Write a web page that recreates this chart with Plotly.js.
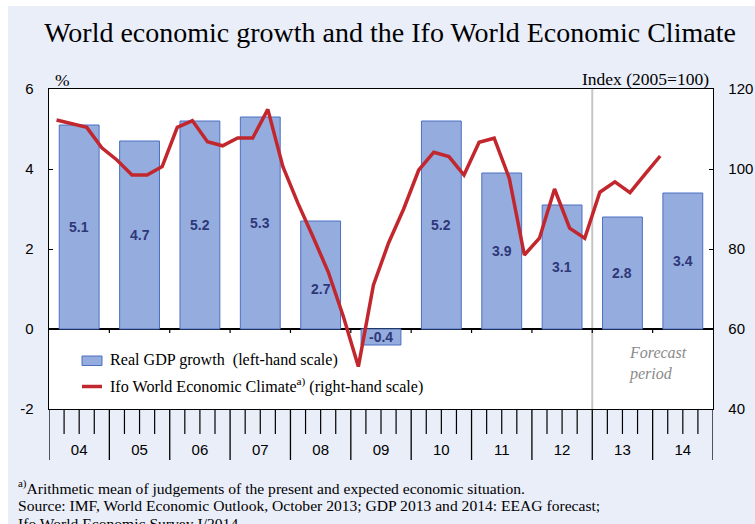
<!DOCTYPE html>
<html><head><meta charset="utf-8">
<script src="https://cdn.plot.ly/plotly-3.0.1.min.js"></script>
<style>html,body{margin:0;padding:0;background:#fff}</style>
</head><body><div id="chart" style="width:755px;height:524px"></div>
<script>
// ---- data ----
const years = ['04','05','06','07','08','09','10','11','12','13','14'];
const gdpGrowth = [5.1, 4.7, 5.2, 5.3, 2.7, -0.4, 5.2, 3.9, 3.1, 2.8, 3.4];
// Ifo World Economic Climate, quarterly from Q1 2004 to Q1 2014 (2005=100)
const climate2004 = [112.25, 111.3, 110.4, 105.3];
const climate2005 = [102.25, 98.5, 98.5, 100.6];
const climate2006 = [110.4, 112.1, 106.8, 105.8];
const climate2007 = [107.75, 107.75, 114.9, 100.6];
const climate2008 = [91.4, 83.0, 74.3, 63.2];
const climate2009 = [50.6, 71.0, 81.5, 90.0];
const climate2010 = [99.75, 104.2, 103.1, 98.5];
const climate2011 = [106.7, 107.7, 97.7, 78.5];
const climate2012 = [82.7, 95.0, 85.2, 82.7];
const climate2013 = [94.2, 96.8, 94.1, 98.7];
const climate2014 = [103.25];
const leftTicks = [-2, 0, 2, 4, 6];
const leftTickText = ['-2', '0', '2', '4', '6'];
const rightTicks = [40, 60, 80, 100, 120];
const forecastStart = '13';
const gdpName = 'Real GDP growth&nbsp; (left-hand scale)';
const climateName = 'Ifo World Economic Climate<sup>a)</sup> (right-hand scale)';

// ---- build ----
const climate = [].concat(climate2004, climate2005, climate2006, climate2007, climate2008,
  climate2009, climate2010, climate2011, climate2012, climate2013, climate2014);
const yearNum = years.map(y => 2000 + parseInt(y, 10));
const firstYear = yearNum[0];
const lastYear = yearNum[yearNum.length - 1] + 1;
const barX = yearNum.map(y => y + 0.5);
const climateX = climate.map((v, i) => firstYear + (i + 0.5) / 4);

const W = 755, H = 524;
const M = {l: 49, r: 42, t: 89, b: 115};
const PW = W - M.l - M.r, PH = H - M.t - M.b;
const px = x => (x - M.l) / PW;
const py = y => (H - M.b - y) / PH;

const BAR_FILL = '#95acdf', BAR_LINE = '#4c6fc2', RED = '#c1272d', LAV = '#eaeef9';
const SERIF = 'Liberation Serif, Times New Roman, serif';
const SANS = 'Liberation Sans, Arial, sans-serif';

const shapes = [];
// white margins of the original page
shapes.push({type:'rect', xref:'paper', yref:'paper', x0:px(0), x1:px(8), y0:py(H+5), y1:py(-5), fillcolor:'#fff', line:{width:0}});
shapes.push({type:'rect', xref:'paper', yref:'paper', x0:px(0), x1:px(W+5), y0:py(6), y1:py(-5), fillcolor:'#fff', line:{width:0}});
// forecast divider
const fYear = 2000 + parseInt(forecastStart, 10);
shapes.push({type:'line', xref:'x', yref:'paper', x0:fYear, x1:fYear, y0:0, y1:1, line:{color:'#c6c6c6', width:2}, layer:'below'});
// ticks below the plot: year boundaries (long) and quarters (short)
for (let y = firstYear; y <= lastYear; y++) {
  shapes.push({type:'line', xref:'x', yref:'paper', x0:y, x1:y, y0:0, y1:py(460), line:{color:'#000', width:1.3}});
  if (y > firstYear && y < lastYear) {
    shapes.push({type:'line', xref:'x', yref:'y', x0:y, x1:y, y0:0, y1:-0.1, line:{color:'#000', width:1.2}});
  }
  if (y < lastYear) {
    for (let q = 1; q < 4; q++) {
      shapes.push({type:'line', xref:'x', yref:'paper', x0:y + q/4, x1:y + q/4, y0:0, y1:py(434), line:{color:'#000', width:1.2}});
    }
  }
}
// manual legend
shapes.push({type:'rect', xref:'paper', yref:'paper', x0:px(82), x1:px(102), y0:py(365.5), y1:py(356), fillcolor:BAR_FILL, line:{color:BAR_LINE, width:1}});
shapes.push({type:'line', xref:'paper', yref:'paper', x0:px(82), x1:px(102), y0:py(386.5), y1:py(386.5), line:{color:RED, width:3.5}});

const annotations = [];
// bar value labels
const labelShift = {'08': -14};
years.forEach((yr, i) => {
  annotations.push({x: barX[i], y: gdpGrowth[i] / 2, xref:'x', yref:'y', text: gdpGrowth[i].toFixed(1),
    showarrow:false, yshift: labelShift[yr] || 0,
    font:{family:SANS, size:14, color:'#2e3878', weight:'bold'}});
});
annotations.push({xref:'paper', yref:'paper', x:px(108), y:py(360), xanchor:'left', yanchor:'middle', text:gdpName, showarrow:false,
  font:{family:SERIF, size:16.1, color:'#000'}});
annotations.push({xref:'paper', yref:'paper', x:px(108), y:py(385), xanchor:'left', yanchor:'middle', text:climateName, showarrow:false,
  font:{family:SERIF, size:16.1, color:'#000'}});
annotations.push({xref:'paper', yref:'paper', x:px(627), y:py(363.5), xanchor:'left', yanchor:'middle', align:'left', text:'<i>Forecast</i><br><i>period</i>', showarrow:false,
  font:{family:SERIF, size:16, color:'#8a8a8a'}});
annotations.push({xref:'paper', yref:'paper', x:px(53), y:py(80), xanchor:'left', yanchor:'middle', text:'%', showarrow:false,
  font:{family:SERIF, size:17.5, color:'#000'}});
annotations.push({xref:'paper', yref:'paper', x:px(711), y:py(79), xanchor:'right', yanchor:'middle', text:'Index (2005=100)', showarrow:false,
  font:{family:SERIF, size:17.5, color:'#000'}});
// footnotes
const notes = ['<sup>a)</sup>Arithmetic mean of judgements of the present and expected economic situation.',
  'Source: IMF, World Economic Outlook, October 2013; GDP 2013 and 2014: EEAG forecast;',
  'Ifo World Economic Survey I/2014.'];
const noteY = [487, 505, 523];
notes.forEach((t, i) => annotations.push({xref:'paper', yref:'paper', x:px(16), y:py(noteY[i]), xanchor:'left', yanchor:'middle',
  text:t, showarrow:false, font:{family:SERIF, size:15.6, color:'#000'}}));

const traces = [
  {type:'bar', x:barX, y:gdpGrowth, width:0.66, name:gdpName,
   marker:{color:BAR_FILL, line:{color:BAR_LINE, width:1}}, hoverinfo:'y', showlegend:false},
  {type:'scatter', mode:'lines', x:climateX, y:climate, yaxis:'y2', name:climateName,
   line:{color:RED, width:3.5}, showlegend:false}
];

const tickFont = {family:SANS, size:15, color:'#000'};
const layout = {
  width:W, height:H, margin:{l:M.l, r:M.r, t:M.t, b:M.b, autoexpand:false},
  paper_bgcolor:LAV, plot_bgcolor:'#fff',
  font:{family:SERIF, color:'#000'},
  title:{text:'World economic growth and the Ifo World Economic Climate', xref:'paper', x:px(390), xanchor:'center',
    yref:'container', y:1 - 32/H, yanchor:'middle', font:{family:SERIF, size:28, color:'#000'}},
  showlegend:false, bargap:0,
  xaxis:{range:[firstYear, lastYear], tickvals:barX, ticktext:years, ticks:'', tickfont:tickFont, ticklabelstandoff:27,
    showgrid:false, zeroline:false, showline:true, mirror:true, linecolor:'#000', linewidth:1.3, fixedrange:true},
  yaxis:{range:[-2, 6], tickvals:leftTicks, ticktext:leftTickText, ticks:'inside', ticklen:4, tickcolor:'#000', tickfont:tickFont, ticklabelstandoff:11,
    showgrid:false, zeroline:true, zerolinecolor:'#000', zerolinewidth:1.3, showline:true, linecolor:'#000', linewidth:1.3, fixedrange:true},
  yaxis2:{range:[40, 120], tickvals:rightTicks, overlaying:'y', side:'right', ticks:'inside', ticklen:4, tickcolor:'#000', tickfont:tickFont,
    ticklabelstandoff:11, showgrid:false, zeroline:false, showline:true, linecolor:'#000', linewidth:1.3, fixedrange:true},
  shapes:shapes, annotations:annotations
};
Plotly.newPlot('chart', traces, layout, {displayModeBar:false, staticPlot:true});
</script></body></html>
